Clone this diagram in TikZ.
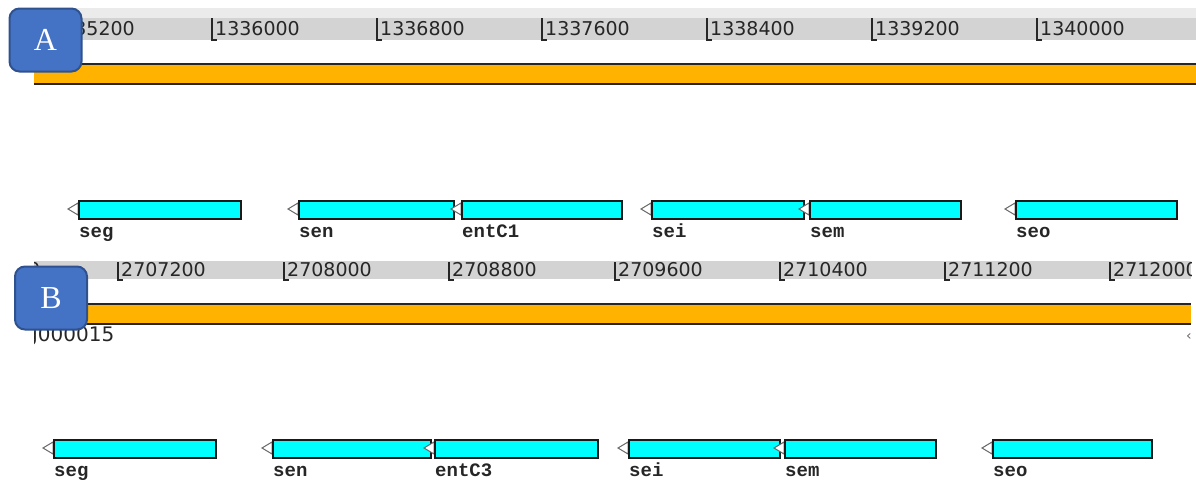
\documentclass[tikz,border=0pt]{standalone}
\usepackage{fontspec}
\setmainfont{Liberation Serif}
\newfontfamily\rulerfont{DejaVu Sans}
\newfontfamily\genefont{Liberation Mono}
\definecolor{badgefill}{HTML}{4472C4}
\definecolor{badgeedge}{HTML}{2F528F}
\definecolor{bandlight}{HTML}{EBEBEB}
\definecolor{bandgray}{HTML}{D3D3D3}
\definecolor{contigbar}{HTML}{FFB300}
\definecolor{genefill}{HTML}{00FFFF}
\tikzset{
  genebox/.style={draw=black!90, line width=1.6pt, fill=genefill, inner sep=0, minimum height=18pt},
  genetip/.style={draw=black!60, fill=white, line width=1pt, line join=miter},
  genelabel/.style={font=\genefont\bfseries\fontsize{19}{19}\selectfont, anchor=base west, inner sep=0, text=black!85},
  ticklabel/.style={font=\rulerfont\fontsize{19}{19}\selectfont, anchor=base west, inner sep=0, text=black!85},
  tickmark/.style={draw=black!85, line width=1.4pt},
  contig/.style={fill=contigbar},
  contigedge/.style={draw=black!85, line width=1.5pt},
  badge/.style={draw=badgeedge, line width=2pt, fill=badgefill, rounded corners=10pt,
    text=white, font=\fontsize{32}{32}\selectfont, minimum width=72pt, minimum height=63pt, inner sep=0}
}
% gene arrow: name, left x, right x, top y, label
\newcommand{\genearrow}[5]{%
  \path[genetip] (#2,#4+3) -- (#2-10,#4+9) -- (#2,#4+15) -- cycle;
  \node[genebox, anchor=north west, minimum width={#3-#2}] (#1) at (#2,#4) {};
  \node[genelabel] (#1-lbl) at (#2+1,#4+37) {#5};
}
% ruler tick: name, x, top y, bottom y, baseline y, label
\newcommand{\rulertick}[6]{%
  \draw[tickmark] (#2,#3) -- (#2,#4) -- (#2+5,#4);
  \node[ticklabel] (#1) at (#2+3,#5) {#6};
}
\begin{document}
\begin{tikzpicture}[x=1pt,y=-1pt]
\useasboundingbox (0,0) rectangle (1196,483);

% ---------- panel A ----------
\fill[bandlight] (34,8) rectangle (1196,18);
\fill[bandgray] (34,18) rectangle (1196,40);
\begin{scope}
  \clip (34,0) rectangle (1196,60);
  \rulertick{a0}{47}{18}{40}{35}{1335200}
  \rulertick{a1}{212}{18}{40}{35}{1336000}
  \rulertick{a2}{377}{18}{40}{35}{1336800}
  \rulertick{a3}{542}{18}{40}{35}{1337600}
  \rulertick{a4}{707}{18}{40}{35}{1338400}
  \rulertick{a5}{872}{18}{40}{35}{1339200}
  \rulertick{a6}{1037}{18}{40}{35}{1340000}
\end{scope}
\fill[contig] (34,64) rectangle (1196,84);
\draw[contigedge] (34,64) -- (1196,64);
\draw[contigedge] (34,84) -- (1196,84);

\genearrow{aseg}{78}{240}{200}{seg}
\genearrow{asen}{298}{453}{200}{sen}
\genearrow{aentc}{461}{621}{200}{entC1}
\genearrow{asei}{651}{803}{200}{sei}
\genearrow{asem}{809}{960}{200}{sem}
\genearrow{aseo}{1015}{1176}{200}{seo}

% ---------- panel B ----------
\fill[bandgray] (34,261) rectangle (1191,279);
\begin{scope}
  \clip (34,250) rectangle (1191,300);
  \rulertick{b0}{-47.5}{262}{280}{276}{2706400}
  \rulertick{b1}{118}{262}{280}{276}{2707200}
  \rulertick{b2}{284}{262}{280}{276}{2708000}
  \rulertick{b3}{449}{262}{280}{276}{2708800}
  \rulertick{b4}{615}{262}{280}{276}{2709600}
  \rulertick{b5}{780}{262}{280}{276}{2710400}
  \rulertick{b6}{945}{262}{280}{276}{2711200}
  \rulertick{b7}{1110}{262}{280}{276}{2712000}
\end{scope}
\fill[contig] (34,304) rectangle (1191,324);
\draw[contigedge] (34,304) -- (1191,304);
\draw[contigedge] (34,324) -- (1191,324);
\begin{scope}
  \clip (34,325) rectangle (1196,350);
  \node[ticklabel, font=\rulerfont\fontsize{20}{20}\selectfont] (bcontig) at (25,341) {g000015};
  \node[ticklabel, font=\rulerfont\fontsize{14}{14}\selectfont, text=black!60] (bnext) at (1186,340) {‹};
\end{scope}

\genearrow{bseg}{53}{215}{439}{seg}
\genearrow{bsen}{272}{430}{439}{sen}
\genearrow{bentc}{434}{597}{439}{entC3}
\genearrow{bsei}{628}{779}{439}{sei}
\genearrow{bsem}{784}{935}{439}{sem}
\genearrow{bseo}{992}{1151}{439}{seo}

% ---------- panel badges ----------
\node[badge] (badgeA) at (45.5,40) {A};
\node[badge] (badgeB) at (51,298) {B};
\end{tikzpicture}
\end{document}
